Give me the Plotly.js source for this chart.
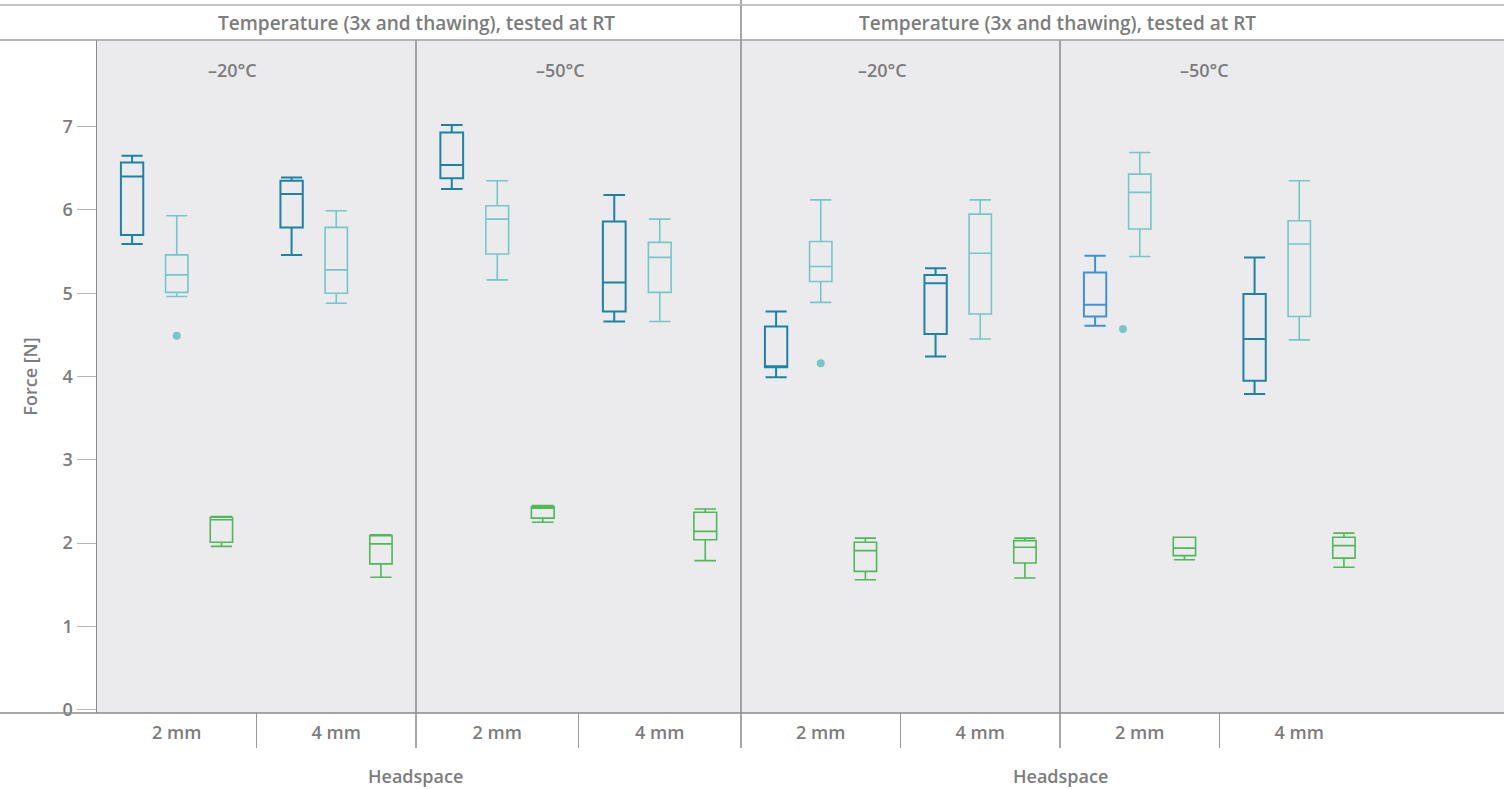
<!DOCTYPE html>
<html><head><meta charset="utf-8">
<script src="https://cdn.plot.ly/plotly-3.0.1.min.js"></script>
<style>html,body{margin:0;padding:0;background:#fff}#chart{width:1504px;height:789px}</style>
</head><body><div id="chart"></div>
<script>
// ---------------- DATA ----------------
const headspace = ["2 mm", "4 mm"];
const panelLabels = ["\u201320\u00b0C", "\u201350\u00b0C", "\u201320\u00b0C", "\u201350\u00b0C"];
const groupTitle = "Temperature (3x and thawing), tested at RT";
const yTicks = [0, 1, 2, 3, 4, 5, 6, 7];

// each array: one entry per panel, each entry = [2 mm, 4 mm]
// series A (dark teal)
const darkLow  = [[5.59, 5.46], [6.25, 4.66], [3.99, 4.24], [4.61, 3.79]];
const darkQ1   = [[5.70, 5.79], [6.38, 4.78], [4.11, 4.51], [4.72, 3.95]];
const darkMed  = [[6.40, 6.19], [6.54, 5.13], [4.12, 5.12], [4.86, 4.45]];
const darkQ3   = [[6.57, 6.35], [6.93, 5.86], [4.60, 5.22], [5.25, 4.99]];
const darkHigh = [[6.65, 6.39], [7.02, 6.18], [4.78, 5.30], [5.45, 5.43]];
// series B (light teal)
const lightLow  = [[4.96, 4.88], [5.16, 4.66], [4.89, 4.45], [5.44, 4.44]];
const lightQ1   = [[5.01, 5.00], [5.47, 5.01], [5.14, 4.75], [5.77, 4.72]];
const lightMed  = [[5.22, 5.28], [5.89, 5.43], [5.32, 5.48], [6.21, 5.59]];
const lightQ3   = [[5.46, 5.79], [6.05, 5.61], [5.62, 5.95], [6.43, 5.87]];
const lightHigh = [[5.93, 5.99], [6.35, 5.89], [6.12, 6.12], [6.69, 6.35]];
const lightOutliers = [[[4.49], []], [[], []], [[4.16], []], [[4.57], []]];
// series C (green)
const greenLow  = [[1.96, 1.59], [2.25, 1.79], [1.56, 1.58], [1.80, 1.71]];
const greenQ1   = [[2.01, 1.75], [2.30, 2.04], [1.66, 1.76], [1.85, 1.82]];
const greenMed  = [[2.28, 1.99], [2.42, 2.14], [1.91, 1.95], [1.94, 1.97]];
const greenQ3   = [[2.31, 2.09], [2.44, 2.37], [2.01, 2.03], [2.07, 2.07]];
const greenHigh = [[2.32, 2.10], [2.45, 2.41], [2.06, 2.06], [2.07, 2.12]];

// ---------------- STYLE ----------------
const C_DARK = "#1b84a6", C_DARK_BLUE = "#3f93d4", C_LIGHT = "#74c7c7", C_GREEN = "#4fb857";
const GRAY_TXT = "#7c7c7c";
const FONT = "'Open Sans', sans-serif";
const WT = 600;
const W = 1504, H = 789, L = 97, R = 0, T = 40, B = 76;
const PW = W - L - R, PH = H - T - B;
const edges = [97, 416, 741, 1060, 1504];
const px2x = p => (p - L) / PW;
const py2y = p => (H - B - p) / PH;

const traces = [];
function addBox(panel, idxs, name, low, q1, med, q3, high, color, width, outl, ppos) {
  const ax = panel === 0 ? "x" : "x" + (panel + 1);
  const t = {
    type: "box", name: name, xaxis: ax, yaxis: "y",
    x: idxs.map(i => headspace[i]),
    lowerfence: idxs.map(i => low[panel][i]),
    q1: idxs.map(i => q1[panel][i]),
    median: idxs.map(i => med[panel][i]),
    q3: idxs.map(i => q3[panel][i]),
    upperfence: idxs.map(i => high[panel][i]),
    offsetgroup: name, alignmentgroup: "a" + panel,
    line: {color: color, width: width},
    fillcolor: "rgba(0,0,0,0)",
    whiskerwidth: 0.95,
    showlegend: false, hoverinfo: "skip",
    boxpoints: false
  };
  if (outl && idxs.some(i => outl[panel][i].length > 0)) {
    t.y = idxs.map(i => outl[panel][i]);
    t.boxpoints = "outliers";
    t.jitter = 0;
    t.pointpos = ppos || 0;
    t.marker = {color: C_LIGHT, size: 8, line: {width: 0}};
  }
  traces.push(t);
}
for (let p = 0; p < 4; p++) {
  if (p === 3) {
    addBox(p, [0], "dark", darkLow, darkQ1, darkMed, darkQ3, darkHigh, C_DARK_BLUE, 2);
    addBox(p, [1], "dark", darkLow, darkQ1, darkMed, darkQ3, darkHigh, C_DARK, 2);
  } else {
    addBox(p, [0, 1], "dark", darkLow, darkQ1, darkMed, darkQ3, darkHigh, C_DARK, 2);
  }
  addBox(p, [0, 1], "light", lightLow, lightQ1, lightMed, lightQ3, lightHigh, C_LIGHT, 1.6, lightOutliers, p === 3 ? -1.5 : 0);
  addBox(p, [0, 1], "green", greenLow, greenQ1, greenMed, greenQ3, greenHigh, C_GREEN, 1.6);
}

const tf = (s) => ({family: FONT, size: s, color: GRAY_TXT, weight: WT});
const layout = {
  width: W, height: H,
  margin: {l: L, r: R, t: T, b: B, pad: 0},
  paper_bgcolor: "#ffffff", plot_bgcolor: "#ebebee",
  font: {family: FONT, color: GRAY_TXT},
  boxmode: "group", boxgap: 0.16, boxgroupgap: 0.5,
  showlegend: false,
  yaxis: {
    range: [-0.04, 8.04], tickvals: yTicks, ticktext: yTicks.map(String),
    showgrid: false, zeroline: false,
    showline: true, linecolor: "#8a8a8a", linewidth: 1.5,
    ticks: "outside", ticklen: 19, tickcolor: "#b5b5b5", tickwidth: 1,
    tickfont: tf(18),
    title: {text: "Force [N]", font: tf(18), standoff: 20}
  },
  shapes: [], annotations: []
};
for (let p = 0; p < 4; p++) {
  const key = p === 0 ? "xaxis" : "xaxis" + (p + 1);
  const rng = p === 3 ? [-0.5, -0.5 + 2 * (edges[4] - edges[3]) / (edges[1] - edges[0])] : [-0.5, 1.5];
  layout[key] = {
    domain: [px2x(edges[p]), px2x(edges[p + 1])],
    type: "category", categoryarray: headspace, categoryorder: "array",
    range: rng, anchor: "y",
    showgrid: false, zeroline: false, showline: false, ticks: "",
    tickfont: tf(18),
    ticklabelstandoff: 7
  };
  layout.shapes.push({type: "line", xref: p === 0 ? "x" : "x" + (p + 1), yref: "paper",
    x0: 0.5, x1: 0.5, y0: py2y(748), y1: 0, line: {color: "#9a9a9a", width: 1}});
  layout.annotations.push({text: panelLabels[p], xref: "paper", yref: "paper",
    x: px2x([232, 560, 882, 1204][p]), y: py2y(70), xanchor: "center", yanchor: "middle",
    showarrow: false, font: tf(18)});
}
[416, 1060].forEach(px => layout.shapes.push({type: "line", xref: "paper", yref: "paper",
  x0: px2x(px), x1: px2x(px), y0: py2y(748), y1: 1, line: {color: "#8a8a8a", width: 1.5}}));
layout.shapes.push({type: "line", xref: "paper", yref: "paper",
  x0: px2x(741), x1: px2x(741), y0: py2y(748), y1: py2y(0), line: {color: "#8a8a8a", width: 1.5}});
[[5, "#b0b0b0", 1.5], [40, "#a0a0a0", 1.5], [713, "#8a8a8a", 1.5]].forEach(([py, c, w]) =>
  layout.shapes.push({type: "line", xref: "paper", yref: "paper", x0: px2x(0), x1: 1,
    y0: py2y(py), y1: py2y(py), line: {color: c, width: w}}));
[416, 1057].forEach(px => layout.annotations.push({text: groupTitle, xref: "paper", yref: "paper",
  x: px2x(px), y: py2y(23), xanchor: "center", yanchor: "middle", showarrow: false, font: tf(19)}));
[415, 1060].forEach(px => layout.annotations.push({text: "Headspace", xref: "paper", yref: "paper",
  x: px2x(px), y: py2y(776), xanchor: "center", yanchor: "middle", showarrow: false, font: tf(18)}));

Plotly.newPlot("chart", traces, layout, {staticPlot: true, displayModeBar: false});
</script>
</body></html>
